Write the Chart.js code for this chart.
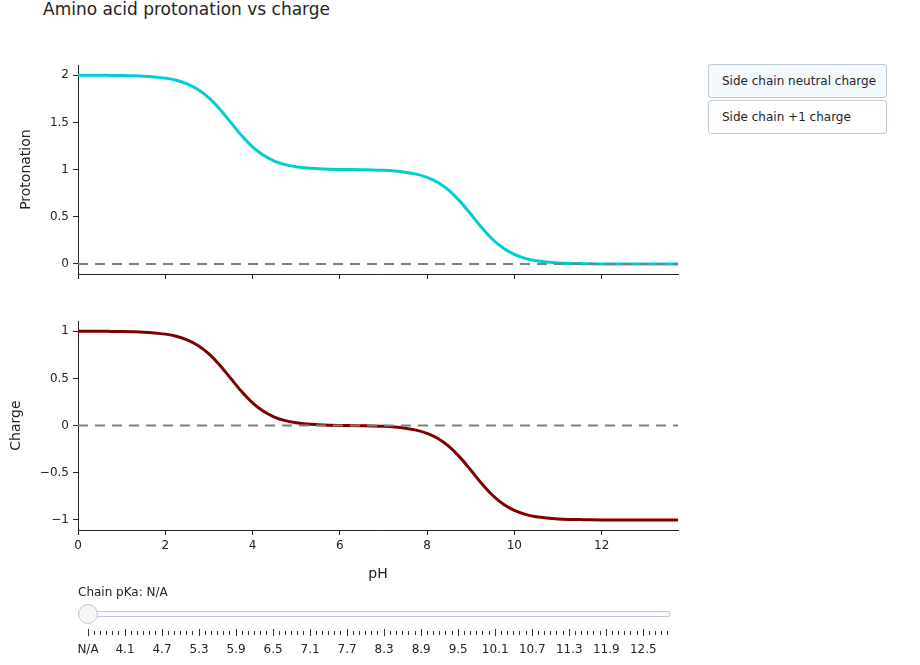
<!DOCTYPE html>
<html>
<head>
<meta charset="utf-8">
<script src="https://cdn.jsdelivr.net/npm/chart.js@4.4.1/dist/chart.umd.min.js"></script>
<style>
  body { margin: 0; background: #fff; font-family: "DejaVu Sans", Verdana, sans-serif; color: #242424; }
  #page { position: relative; width: 920px; height: 665px; overflow: hidden; }
  .abs { position: absolute; }
  #title { left: 43px; top: -1px; font-size: 17px; line-height: 20px; white-space: nowrap; }
  .btn { left: 708px; width: 179px; height: 34px; box-sizing: border-box; border: 1px solid #bec8d9;
         border-radius: 3px; background: #fff; font-size: 12px; line-height: 32px; padding-left: 13px; white-space: nowrap; }
  .btn.active { background: #f4f9fe; }
  #sliderLabel { left: 78px; top: 584px; font-size: 12px; line-height: 16px; white-space: nowrap; }
  #rail { left: 78px; top: 611px; width: 592px; height: 6px; box-sizing: border-box; border: 1px solid #bec8d9;
          background: #f8fafc; border-radius: 2px; }
  #handle { left: 78px; top: 604px; width: 20px; height: 20px; box-sizing: border-box; border-radius: 50%;
            border: 1px solid #bec8d9; background: #f6f6f6; }
  .tick { width: 1px; background: #333; }
  .tickLabel { top: 641px; font-size: 12px; line-height: 16px; white-space: nowrap; transform: translateX(-50%); }
</style>
</head>
<body>
<div id="page">
  <div id="title" class="abs">Amino acid protonation vs charge</div>
  <div class="abs" style="left:0;top:54px;width:700px;height:236px"><canvas id="protonationChart" width="700" height="236"></canvas></div>
  <div class="abs" style="left:0;top:310px;width:700px;height:280px"><canvas id="chargeChart" width="700" height="280"></canvas></div>
  <div id="buttons"></div>
  <div id="slider"></div>
</div>
<script>
// pH grid and read-off values
const phValues = [0, 0.25, 0.5, 0.75, 1, 1.25, 1.5, 1.75, 2, 2.25, 2.5, 2.75, 3, 3.25, 3.5, 3.75,
  4, 4.25, 4.5, 4.75, 5, 5.25, 5.5, 5.75, 6, 6.25, 6.5, 6.75, 7, 7.25, 7.5, 7.75,
  8, 8.25, 8.5, 8.75, 9, 9.25, 9.5, 9.75, 10, 10.25, 10.5, 10.75, 11, 11.25, 11.5, 11.75,
  12, 12.25, 12.5, 12.75, 13, 13.25, 13.5, 13.75];

const protonation = [2.000, 1.999, 1.999, 1.998, 1.997, 1.994, 1.990, 1.982, 1.969, 1.947,
  1.909, 1.849, 1.760, 1.640, 1.500, 1.360, 1.240, 1.151, 1.091, 1.053,
  1.031, 1.017, 1.010, 1.005, 1.002, 1.000, 0.998, 0.996, 0.992, 0.985,
  0.973, 0.952, 0.918, 0.863, 0.780, 0.666, 0.529, 0.387, 0.262, 0.166,
  0.101, 0.059, 0.034, 0.020, 0.011, 0.006, 0.004, 0.002, 0.001, 0.001,
  0.000, 0.000, 0.000, 0.000, 0.000, 0.000];

const charge = [1.000, 0.999, 0.999, 0.998, 0.997, 0.994, 0.990, 0.982, 0.969, 0.947,
  0.909, 0.849, 0.760, 0.640, 0.500, 0.360, 0.240, 0.151, 0.091, 0.053,
  0.031, 0.017, 0.010, 0.005, 0.002, 0.000, -0.002, -0.004, -0.008, -0.015,
  -0.027, -0.048, -0.082, -0.137, -0.220, -0.334, -0.471, -0.613, -0.738, -0.834,
  -0.899, -0.941, -0.966, -0.980, -0.989, -0.994, -0.996, -0.998, -0.999, -0.999,
  -1.000, -1.000, -1.000, -1.000, -1.000, -1.000];

const zeroLineX = [0, 13.75];
const zeroLineY = [0, 0];

const buttonLabels = ['Side chain neutral charge', 'Side chain +1 charge'];
const sliderTickLabels = ['N/A', '4.1', '4.7', '5.3', '5.9', '6.5', '7.1', '7.7', '8.3', '8.9',
  '9.5', '10.1', '10.7', '11.3', '11.9', '12.5'];
const sliderStepCount = 95;
const sliderLabelEvery = 6;

const INK = '#242424';
Chart.defaults.font.family = '"DejaVu Sans", Verdana, sans-serif';
Chart.defaults.font.size = 12;
Chart.defaults.color = INK;

function points(xs, ys) {
  return xs.map((x, i) => ({ x: x, y: ys[i] }));
}

function makeChart(id, values, color, yMin, yMax, yTitle, titlePad, bottomAxis) {
  const ctx = document.getElementById(id).getContext('2d');
  return new Chart(ctx, {
    type: 'line',
    data: {
      datasets: [
        { data: points(zeroLineX, zeroLineY), borderColor: '#808080', borderWidth: 2, borderDash: [10, 7], pointRadius: 0 },
        { data: points(phValues, values), borderColor: color, borderWidth: 3, pointRadius: 0, cubicInterpolationMode: 'monotone' }
      ]
    },
    options: {
      animation: false,
      responsive: false,
      layout: { padding: { top: 10, right: 22, left: 0, bottom: 0 } },
      plugins: { legend: { display: false }, tooltip: { enabled: false } },
      scales: {
        x: {
          type: 'linear', min: 0, max: 13.75,
          ticks: { display: bottomAxis, stepSize: 2, includeBounds: false, padding: 4, maxRotation: 0 },
          grid: { drawOnChartArea: false, drawTicks: true, tickLength: 5, tickColor: INK },
          border: { display: true, color: INK, width: 1 },
          title: { display: bottomAxis, text: 'pH', font: { size: 14 }, padding: { top: 0, bottom: 7 } },
          afterFit: s => { s.height = bottomAxis ? 60 : 16; }
        },
        y: {
          min: yMin, max: yMax,
          ticks: { stepSize: 0.5, includeBounds: false, padding: 4,
                   callback: v => String(v).replace('-', '\u2212') },
          grid: { drawOnChartArea: false, drawTicks: true, tickLength: 5, tickColor: INK },
          border: { display: true, color: INK, width: 1 },
          title: { display: true, text: yTitle, font: { size: 14 }, padding: { top: titlePad, bottom: 0 } },
          afterFit: s => { s.width = 78; }
        }
      }
    }
  });
}

makeChart('protonationChart', protonation, '#00ced1', -0.106, 2.106, 'Protonation', 17.6, false);
makeChart('chargeChart', charge, '#800000', -1.106, 1.106, 'Charge', 7.6, true);

// update-menu buttons
const btnBox = document.getElementById('buttons');
buttonLabels.forEach((label, i) => {
  const b = document.createElement('div');
  b.className = 'abs btn' + (i === 0 ? ' active' : '');
  b.style.top = (64 + i * 35.5) + 'px';
  b.textContent = label;
  btnBox.appendChild(b);
});

// slider
const slider = document.getElementById('slider');
slider.innerHTML = '<div id="sliderLabel" class="abs">Chain pKa: N/A</div><div id="rail" class="abs"></div>';
const stepPx = 6.17;
for (let i = 0; i < sliderStepCount; i++) {
  const x = 87.5 + i * stepPx;
  const major = i % sliderLabelEvery === 0;
  const t = document.createElement('div');
  t.className = 'abs tick';
  t.style.left = Math.round(x) + 'px';
  t.style.top = (major ? 629 : 631) + 'px';
  t.style.height = (major ? 7 : 4) + 'px';
  slider.appendChild(t);
  if (major && sliderTickLabels[i / sliderLabelEvery] !== undefined) {
    const l = document.createElement('div');
    l.className = 'abs tickLabel';
    l.style.left = (x + 0.5) + 'px';
    l.textContent = sliderTickLabels[i / sliderLabelEvery];
    slider.appendChild(l);
  }
}
const handle = document.createElement('div');
handle.id = 'handle';
handle.className = 'abs';
slider.appendChild(handle);
</script>
</body>
</html>
